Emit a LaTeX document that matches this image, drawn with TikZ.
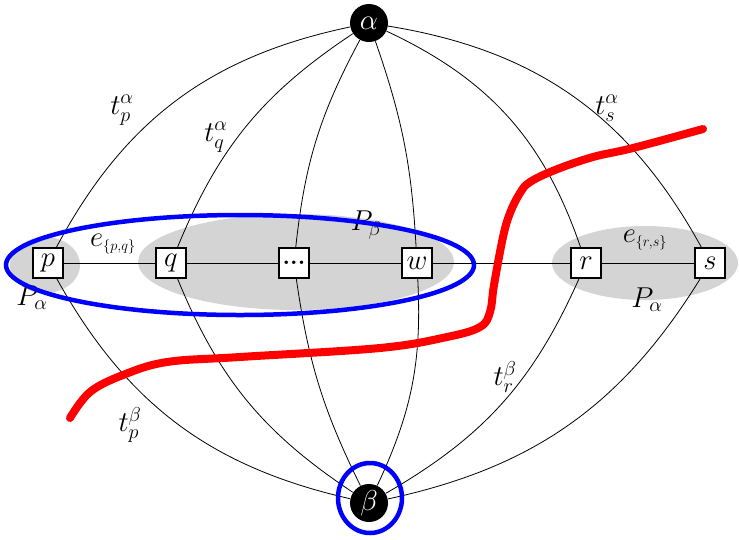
\RequirePackage{fix-cm}
\documentclass[tikz,border=0pt]{standalone}
\usepackage{amsmath,amssymb}
\usetikzlibrary{positioning}
\newcommand{\glab}[1]{\scalebox{1.15}{$#1$}}

\begin{document}
\begin{tikzpicture}[x=1pt,y=-1pt,
  font=\fontsize{25}{30}\selectfont, line width=0.8pt,
  v/.style={draw,line width=1.8pt,fill=white,minimum size=30pt,inner sep=0pt},
  term/.style={circle,fill=black,text=white,minimum size=38pt,inner sep=0pt},
  blob/.style={fill=black!17},
  ring/.style={draw=blue,line width=4.5pt},
  cut/.style={draw=red,line width=8pt,line cap=round,line join=round}]
\useasboundingbox (0,0) rectangle (739,539);
% shaded paths
\fill[blob] (45,265) ellipse[x radius=35pt,y radius=28pt];
\fill[blob] (296,262) ellipse[x radius=158pt,y radius=48pt];
\fill[blob] (645,263) ellipse[x radius=93pt,y radius=37pt];
% terminals and path vertices
\node[term] (alpha) at (369,23) {\glab{\alpha}};
\node[term] (beta) at (369,503) {\glab{\beta}};
\node[v] (p) at (48,263) {\glab{p}};
\node[v] (q) at (171,263) {\glab{q}};
\node[v,font=\fontsize{24}{24}\selectfont\bfseries] (dots) at (294,263) {...};
\node[v] (w) at (417,263) {\glab{w}};
\node[v] (r) at (586,263) {\glab{r}};
\node[v] (s) at (710,263) {\glab{s}};
\draw (p)--(q)--(dots)--(w)--(r)--(s);
% upper edges
\draw (alpha) to[bend right=25] (p);
\draw (alpha) to[bend right=17] (q);
\draw (alpha) to[bend right=11] (dots);
\draw (alpha) to[bend left=8] (w);
\draw (alpha) to[bend left=23] (r);
\draw (alpha) to[bend left=26] (s);
% lower edges
\draw (beta) to[bend left=24] (p);
\draw (beta) to[bend left=17] (q);
\draw (beta) to[bend left=9] (dots);
\draw (beta) to[bend right=14] (w);
\draw (beta) to[bend right=18] (r);
\draw (beta) to[bend right=23] (s);
% labels
\node (tpa) at (122,110) {\glab{t_p^\alpha}};
\node (tqa) at (216,137) {\glab{t_q^\alpha}};
\node (tsa) at (607,108) {\glab{t_s^\alpha}};
\node (tpb) at (130,425) {\glab{t_p^\beta}};
\node (trb) at (505,377) {\glab{t_r^\beta}};
\node (epq) at (113,244) {\glab{e_{\scriptscriptstyle\{p,q\}}}};
\node (ers) at (645,240) {\glab{e_{\scriptscriptstyle\{r,s\}}}};
\node (Pb) at (366,225) {\glab{P_\beta}};
\node (Pa1) at (32,298) {\glab{P_\alpha}};
\node (Pa2) at (647,300) {\glab{P_\alpha}};
% highlights
\draw[ring] (240,265) ellipse[x radius=234pt,y radius=50pt];
\draw[ring] (370,498) ellipse[x radius=32pt,y radius=35pt];
\draw[cut] plot[smooth,tension=0.6] coordinates {(70,418) (90,392) (123,375) (167,362)
  (240,357) (380,348) (447,337) (480,327) (490,312) (494,285) (503,237) (510,213)
  (520,193) (530,182) (555,170) (593,157) (633,148) (703,129)};
\end{tikzpicture}
\end{document}
